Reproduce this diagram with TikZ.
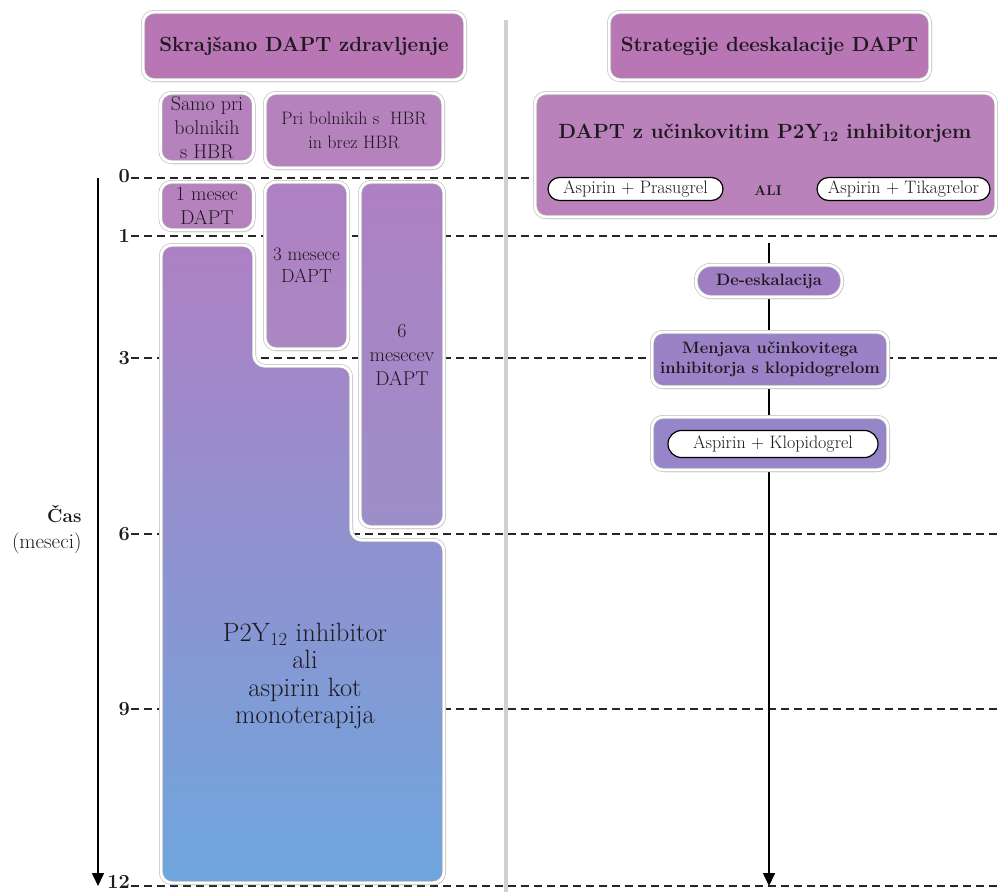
\documentclass[tikz,border=0pt]{standalone}
\usepackage{fontspec}
\usepackage{tikz}
\usetikzlibrary{positioning,arrows.meta,shapes.misc,shadows}
\definecolor{hdrpurple}{RGB}{184,118,180}
\definecolor{subpurple}{RGB}{182,130,190}
\definecolor{bigpurple}{RGB}{186,130,186}
\definecolor{ltop}{RGB}{174,128,196}
\definecolor{lbot}{RGB}{110,166,221}
\definecolor{rpurple}{RGB}{160,126,196}
\definecolor{txt}{RGB}{30,25,30}
\newcommand\hdrfont{\fontsize{20.5}{25}\selectfont\bfseries}
\newcommand\boxfont{\fontsize{20}{24}\selectfont}
\newcommand\ovalfont{\fontsize{18}{22}\selectfont}
\newcommand\stepfont{\fontsize{16.5}{20.5}\selectfont\bfseries}
\tikzset{
  boxbase/.style={rounded corners=11pt,draw=black!28,line width=0.6pt,
    double=white,double distance=2.8pt,
    drop shadow={shadow xshift=1.5pt,shadow yshift=-2pt,opacity=0.3},
    inner sep=0pt,align=center,text=txt},
  hdrbox/.style={boxbase,fill=hdrpurple,font=\hdrfont},
  subbox/.style={boxbase,fill=subpurple,font=\boxfont},
  durbox/.style={boxbase,top color=ltop,bottom color=#1,font=\boxfont},
  stepbox/.style={boxbase,fill=rpurple,font=\stepfont},
  oval/.style={rounded rectangle,draw=black,fill=white,line width=1.2pt,
    inner sep=0pt,minimum height=23pt,font=\ovalfont,text=txt},
  lvl/.style={dash pattern=on 8pt off 5pt,line width=1.4pt,black!85},
  tnum/.style={font=\fontsize{20}{20}\selectfont\bfseries,text=txt,inner sep=1pt},
  axisln/.style={-{Triangle[width=12pt,length=13pt]},line width=1.6pt},
  sepln/.style={line width=3.5pt,black!18},
}
\begin{document}
\begin{tikzpicture}[x=1pt,y=-1pt]
  \useasboundingbox (0,0) rectangle (998,892);
  % time levels and their dashed lines
  \foreach \t/\yy/\ly in {0/178/176,1/236/236,3/358/358,6/534/534,9/709/709,12/886/882}{
    \node[tnum,anchor=east] (t\t) at (131,\ly) {\t};
    \coordinate (s\t) at (131,\yy);
    \coordinate (e\t) at (998,\yy);
    \draw[lvl] (s\t) -- (e\t);
  }
  % time axis
  \coordinate (axtop) at (98,178);
  \coordinate (axbot) at (98,886);
  \draw[axisln] (axtop) -- (axbot);
  \node[font=\fontsize{19}{22}\selectfont\bfseries,text=txt,anchor=east] (cas) at (85,514) {Čas};
  \node[font=\fontsize{21}{24}\selectfont,text=txt,anchor=east] (mes) at (85,543) {(meseci)};
  % column separator
  \draw[sepln] (506,20) -- (506,892);

  % left column
  \node[hdrbox,minimum width=322pt,minimum height=68pt] (lhdr) at (304,46) {Skrajšano DAPT zdravljenje};
  \node[subbox,minimum width=93pt,minimum height=69pt] (hbr) at (207,127.5) {Samo pri\\bolnikih\\s HBR};
  \node[subbox,font=\fontsize{18}{24}\selectfont,minimum width=178pt,minimum height=75pt] (all) at (354,130.5) {Pri bolnikih s \ HBR\\in brez HBR};
  \node[subbox,minimum width=93pt,minimum height=48pt] (m1) at (207,206) {1 mesec\\DAPT};
  \node[durbox=subpurple!85!lbot,font=\fontsize{19}{22}\selectfont,minimum width=83pt,minimum height=167pt] (m3) at (306.5,265.5) {3 mesece\\DAPT};
  \node[durbox=subpurple!65!lbot,minimum width=84pt,minimum height=345pt] (m6) at (402,354.5) {6\\mesecev\\DAPT};
  % monotherapy block (stepped shape)
  \path[boxbase,top color=ltop,bottom color=lbot]
    (161,245) -- (254,245) -- (254,366) -- (351,366) -- (351,540)
    -- (444,540) -- (444,883) -- (161,883) -- cycle;
  \node[font=\fontsize{26.5}{27.5}\selectfont,text=txt,align=center] (mono) at (305,676)
    {P2Y\textsubscript{12} inhibitor\\ali\\aspirin kot\\monoterapija};

  % right column
  \coordinate (tltop) at (769,243);
  \coordinate (tlbot) at (769,886);
  \draw[axisln] (tltop) -- (tlbot);
  \node[hdrbox,minimum width=321pt,minimum height=68pt] (rhdr) at (769.5,46) {Strategije deeskalacije DAPT};
  \node[boxbase,fill=bigpurple,minimum width=461pt,minimum height=124pt] (dapt) at (765.5,155) {};
  \node[font=\fontsize{20.6}{25}\selectfont\bfseries,text=txt] (dtitle) at (765,133) {DAPT z učinkovitim P2Y\textsubscript{12} inhibitorjem};
  \node[oval,minimum width=175pt] (pras) at (635.5,189) {Aspirin + Prasugrel};
  \node[font=\fontsize{14}{16}\selectfont\bfseries,text=txt] (ali) at (768,191) {ALI};
  \node[oval,minimum width=173pt] (tika) at (903.5,189) {Aspirin + Tikagrelor};
  \node[stepbox,rounded corners=15pt,minimum width=146pt,minimum height=32pt] (desk) at (769,281) {De-eskalacija};
  \node[stepbox,fill=rpurple!90!lbot,minimum width=236pt,minimum height=55pt] (menj) at (770,359.5) {Menjava učinkovitega\\inhibitorja s klopidogrelom};
  \node[stepbox,fill=rpurple!80!lbot,minimum width=236pt,minimum height=53pt] (klop) at (770,443.5) {};
  \node[oval,minimum width=210pt,minimum height=27pt] (aklop) at (773,444) {Aspirin + Klopidogrel};
\end{tikzpicture}
\end{document}
